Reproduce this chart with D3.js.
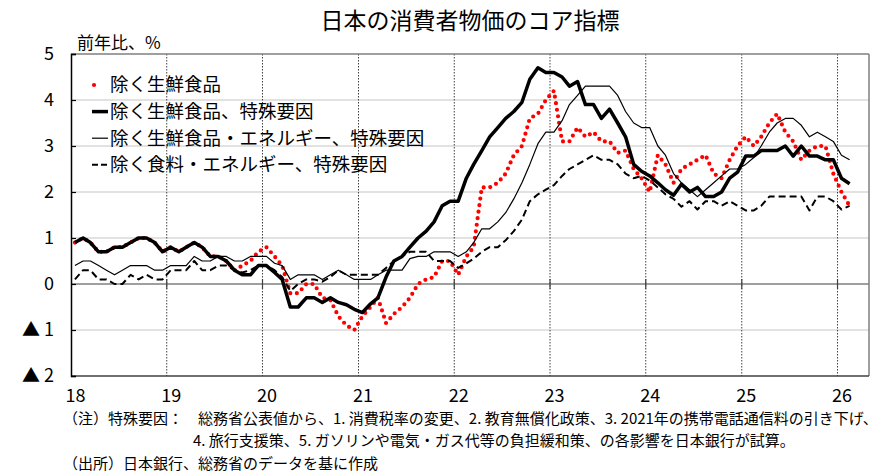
<!DOCTYPE html>
<html>
<head>
<meta charset="utf-8">
<script src="https://cdn.jsdelivr.net/npm/d3@7"></script>
<style>
  body { margin: 0; background: #fff; }
  svg { display: block; font-family: "Noto Sans CJK JP", "Noto Sans", sans-serif; }
</style>
</head>
<body>
<div id="chart"></div>
<script>
// monthly y/y %, Jan 2018 .. Feb 2026
var firstMonth = [2018, 0];

// 除く生鮮食品
var coreCPI = [
  0.9,1.0,0.9,0.7,0.7,0.8,0.8,0.9,1.0,1.0,0.9,0.7,
  0.8,0.7,0.8,0.9,0.8,0.6,0.6,0.5,0.3,0.4,0.5,0.7,
  0.8,0.6,0.4,-0.2,-0.2,0.0,0.0,-0.3,-0.35,-0.7,-0.9,-1.0,
  -0.7,-0.5,-0.3,-0.85,-0.65,-0.5,-0.3,0.0,0.1,0.15,0.5,0.5,
  0.2,0.6,0.8,2.1,2.1,2.2,2.4,2.8,3.0,3.6,3.7,4.0,
  4.2,3.1,3.1,3.4,3.2,3.3,3.1,3.1,2.85,2.9,2.5,2.3,
  2.0,2.8,2.6,2.2,2.5,2.6,2.7,2.8,2.4,2.3,2.7,3.0,
  3.2,3.0,3.2,3.5,3.7,3.3,3.1,2.7,2.9,3.0,3.0,2.4,
  2.0,1.7
];

// 除く生鮮食品、特殊要因
var coreExSpecial = [
  0.9,1.0,0.9,0.7,0.7,0.8,0.8,0.9,1.0,1.0,0.9,0.7,
  0.8,0.7,0.8,0.9,0.8,0.6,0.6,0.5,0.3,0.2,0.2,0.4,
  0.4,0.25,0.1,-0.5,-0.5,-0.3,-0.3,-0.4,-0.3,-0.4,-0.45,-0.55,
  -0.62,-0.43,-0.3,0.15,0.5,0.6,0.8,1.0,1.15,1.35,1.7,1.8,
  1.8,2.3,2.6,2.9,3.2,3.4,3.6,3.75,3.95,4.45,4.7,4.6,
  4.6,4.5,4.3,4.4,3.9,3.9,3.6,3.8,3.5,3.2,2.6,2.45,
  2.35,2.2,2.05,1.93,2.17,2.0,2.1,1.9,1.9,2.0,2.3,2.43,
  2.78,2.78,2.9,2.9,2.9,3.0,2.78,3.0,2.78,2.78,2.7,2.7,
  2.3,2.18
];

// 除く生鮮食品・エネルギー、特殊要因
var coreExEnergySpecial = [
  0.4,0.5,0.5,0.4,0.3,0.2,0.3,0.4,0.4,0.4,0.3,0.3,
  0.4,0.4,0.4,0.6,0.5,0.5,0.6,0.6,0.5,0.5,0.6,0.6,
  0.6,0.45,0.4,0.1,0.2,0.2,0.2,0.1,0.2,0.3,0.2,0.1,
  0.1,0.1,0.2,0.3,0.3,0.3,0.55,0.6,0.6,0.7,0.7,0.7,
  0.6,0.7,0.9,1.2,1.2,1.35,1.55,1.85,2.2,2.6,3.05,3.3,
  3.3,3.55,3.9,4.1,4.3,4.3,4.3,4.3,4.1,3.75,3.5,3.4,
  3.4,3.0,2.8,2.4,2.2,2.05,1.9,2.05,2.2,2.35,2.5,2.5,
  2.6,2.75,3.0,3.3,3.5,3.6,3.6,3.45,3.2,3.3,3.2,3.1,
  2.8,2.7
];

// 除く食料・エネルギー、特殊要因
var coreCoreSpecial = [
  0.1,0.3,0.3,0.1,0.1,0.0,0.0,0.2,0.1,0.2,0.1,0.1,
  0.3,0.3,0.3,0.5,0.3,0.3,0.4,0.4,0.3,0.25,0.3,0.4,
  0.4,0.3,0.15,-0.15,0.0,0.1,0.1,0.05,0.15,0.3,0.2,0.2,
  0.2,0.2,0.2,0.35,0.5,0.6,0.7,0.7,0.7,0.5,0.5,0.5,
  0.35,0.45,0.55,0.7,0.8,0.8,0.95,1.15,1.4,1.8,1.95,2.05,
  2.15,2.35,2.5,2.6,2.7,2.8,2.7,2.7,2.6,2.4,2.3,2.35,
  2.25,2.1,1.95,1.85,1.68,1.8,1.62,1.8,1.8,1.7,1.8,1.7,
  1.6,1.6,1.7,1.9,1.9,1.9,1.9,1.9,1.6,1.9,1.9,1.8,
  1.62,1.7
];

var yearLabels = ["18","19","20","21","22","23","24","25","26"];
var yTicks = [5,4,3,2,1,0,-1,-2];
var yTickLabels = ["5","4","3","2","1","0","▲ 1","▲ 2"];
var legendLabels = [
  "除く生鮮食品",
  "除く生鮮食品、特殊要因",
  "除く生鮮食品・エネルギー、特殊要因",
  "除く食料・エネルギー、特殊要因"
];
var title = "日本の消費者物価のコア指標";
var unitLabel = "前年比、%";
var notes = [
  "（注）特殊要因：　総務省公表値から、1. 消費税率の変更、2. 教育無償化政策、3. 2021年の携帯電話通信料の引き下げ、",
  "4. 旅行支援策、5. ガソリンや電気・ガス代等の負担緩和策、の各影響を日本銀行が試算。",
  "（出所）日本銀行、総務省のデータを基に作成"
];

var W = 885, H = 474;
var plot = {left: 71, top: 54, right: 869, bottom: 376};

var svg = d3.select("#chart").append("svg")
    .attr("width", W)
    .attr("height", H);

svg.append("rect").attr("width", W).attr("height", H).attr("fill", "#fff");

var months = coreCPI.map(function(d, i){ return new Date(firstMonth[0], firstMonth[1] + i, 16); });
var yearStarts = yearLabels.map(function(s){ return new Date(2000 + (+s), 0, 1); });

var x = d3.scaleTime()
    .domain([new Date(2018, 0, 1), new Date(2026, 4, 1)])
    .range([plot.left, plot.right]);

var y = d3.scaleLinear()
    .domain([-2, 5])
    .range([plot.bottom, plot.top]);

// horizontal grid
svg.append("g")
  .selectAll("line")
  .data(yTicks.filter(function(d){ return d !== 0 && d !== 5 && d !== -2; }))
  .enter().append("line")
    .attr("x1", plot.left).attr("x2", plot.right)
    .attr("y1", function(d){ return y(d); })
    .attr("y2", function(d){ return y(d); })
    .attr("stroke", "#d9d9d9")
    .attr("stroke-width", 1.5);

// year lines (dotted)
svg.append("g")
  .selectAll("line")
  .data(yearStarts.slice(1))
  .enter().append("line")
    .attr("x1", function(d){ return x(d); })
    .attr("x2", function(d){ return x(d); })
    .attr("y1", plot.top).attr("y2", plot.bottom)
    .attr("stroke", "#404040")
    .attr("stroke-width", 1)
    .attr("stroke-dasharray", "1.5,1.5");

// zero line + ticks on it
svg.append("line")
    .attr("x1", plot.left).attr("x2", plot.right)
    .attr("y1", y(0)).attr("y2", y(0))
    .attr("stroke", "#404040")
    .attr("stroke-width", 1.2);

svg.append("g")
  .selectAll("line")
  .data(yearStarts.slice(1))
  .enter().append("line")
    .attr("x1", function(d){ return x(d); })
    .attr("x2", function(d){ return x(d); })
    .attr("y1", y(0) - 5).attr("y2", y(0) + 5)
    .attr("stroke", "#404040")
    .attr("stroke-width", 1.2);

// frame
svg.append("line").attr("x1", plot.left).attr("x2", plot.right).attr("y1", plot.top).attr("y2", plot.top)
    .attr("stroke", "#7f7f7f").attr("stroke-width", 1.5);
svg.append("line").attr("x1", plot.right).attr("x2", plot.right).attr("y1", plot.top).attr("y2", plot.bottom)
    .attr("stroke", "#7f7f7f").attr("stroke-width", 1.5);
svg.append("line").attr("x1", plot.left).attr("x2", plot.right).attr("y1", plot.bottom).attr("y2", plot.bottom)
    .attr("stroke", "#404040").attr("stroke-width", 1.5);

// y axis
var yAxis = d3.axisLeft(y)
    .tickValues(yTicks)
    .tickSize(-5)
    .tickPadding(17)
    .tickFormat(function(d, i){ return yTickLabels[i]; });

var gy = svg.append("g")
    .attr("transform", "translate(" + plot.left + ",0)")
    .call(yAxis);
gy.select(".domain").attr("stroke", "#000").attr("stroke-width", 1.5);
gy.selectAll(".tick line").attr("stroke", "#000").attr("stroke-width", 1.2);
gy.selectAll("text").attr("font-size", "18px").attr("fill", "#000").attr("font-family", "Noto Sans CJK JP");

// x axis labels
var xAxis = d3.axisBottom(x)
    .tickValues(yearStarts.map(function(d){ return new Date(d.getFullYear(), 0, 16); }))
    .tickSize(0)
    .tickPadding(13)
    .tickFormat(d3.timeFormat("%y"));

var gx = svg.append("g")
    .attr("transform", "translate(0," + plot.bottom + ")")
    .call(xAxis);
gx.select(".domain").remove();
gx.selectAll("text").attr("font-size", "18px").attr("fill", "#000").attr("font-family", "Noto Sans CJK JP");

// series
var line = d3.line()
    .x(function(d, i){ return x(months[i]); })
    .y(function(d){ return y(d); });

var series = [
  {values: coreCPI, stroke: "#ff0000", width: 4.2, dash: "0,6.6", cap: "round"},
  {values: coreCoreSpecial, stroke: "#000", width: 2, dash: "7,4", cap: "butt"},
  {values: coreExEnergySpecial, stroke: "#000", width: 1.2, dash: null, cap: "butt"},
  {values: coreExSpecial, stroke: "#000", width: 3.5, dash: null, cap: "butt"}
];

svg.append("g")
  .selectAll("path")
  .data(series)
  .enter().append("path")
    .attr("fill", "none")
    .attr("stroke", function(d){ return d.stroke; })
    .attr("stroke-width", function(d){ return d.width; })
    .attr("stroke-dasharray", function(d){ return d.dash; })
    .attr("stroke-linecap", function(d){ return d.cap; })
    .attr("stroke-linejoin", "round")
    .attr("d", function(d){ return line(d.values); });

// legend
var legendStyles = [series[0], series[3], series[2], series[1]];
var legend = svg.append("g")
    .selectAll("g")
    .data(legendLabels)
    .enter().append("g")
      .attr("transform", function(d, i){ return "translate(92," + (85 + i * 26.6) + ")"; });

legend.append("line")
    .attr("x1", function(d, i){ return i === 0 ? 2 : 0; })
    .attr("x2", function(d, i){ return i === 0 ? 11 : 16; })
    .attr("stroke", function(d, i){ return legendStyles[i].stroke; })
    .attr("stroke-width", function(d, i){ return legendStyles[i].width; })
    .attr("stroke-dasharray", function(d, i){ return i === 0 ? "0,9" : (i === 3 ? "6,3" : null); })
    .attr("stroke-linecap", function(d, i){ return legendStyles[i].cap; });

legend.append("text")
    .attr("x", 18)
    .attr("dy", "0.35em")
    .attr("font-size", "18.5px")
    .attr("fill", "#000")
    .text(function(d){ return d; });

// titles
svg.append("text")
    .attr("x", 470).attr("y", 21)
    .attr("dy", "0.35em")
    .attr("text-anchor", "middle")
    .attr("font-size", "23px")
    .attr("fill", "#000")
    .text(title);

svg.append("text")
    .attr("x", 77).attr("y", 43)
    .attr("dy", "0.35em")
    .attr("font-size", "17px")
    .attr("fill", "#000")
    .text(unitLabel);

// notes
var noteX = [63, 193, 63], noteY = [419, 441, 464];
svg.append("g")
  .selectAll("text")
  .data(notes)
  .enter().append("text")
    .attr("x", function(d, i){ return noteX[i]; })
    .attr("y", function(d, i){ return noteY[i]; })
    .attr("dy", "0.35em")
    .attr("font-size", "15px")
    .attr("fill", "#000")
    .text(function(d){ return d; });
</script>
</body>
</html>
